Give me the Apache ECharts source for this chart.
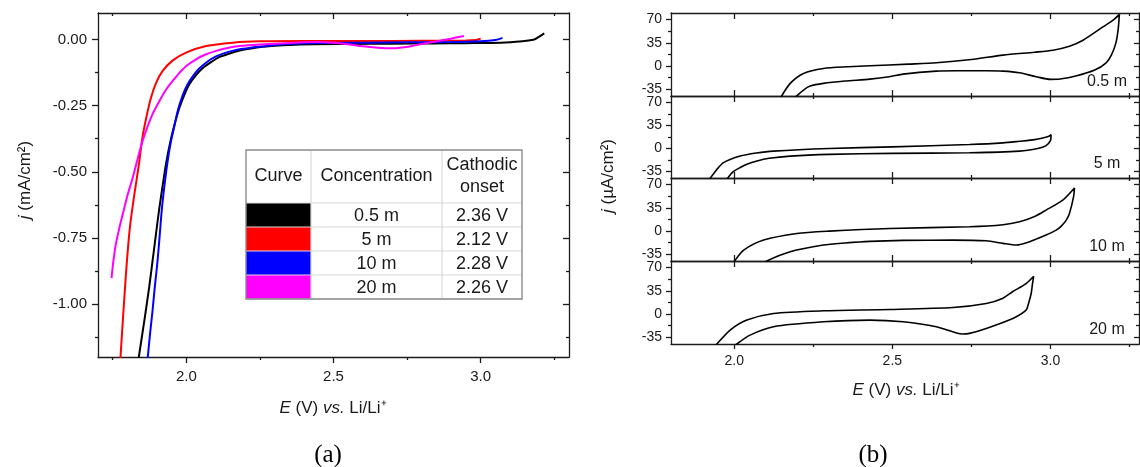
<!DOCTYPE html>
<html><head><meta charset="utf-8">
<script src="https://cdn.jsdelivr.net/npm/echarts@6/dist/echarts.min.js"></script>
<style>html,body{margin:0;padding:0;background:#fff}#c{width:1140px;height:467px}</style>
</head><body><div id="c"></div>
<script>
// ---------- Panel (a): linear sweeps, E (V) vs j (mA/cm2) ----------
const blackE = [3.216, 3.20, 3.182, 3.13, 3.068, 2.95, 2.84, 2.70, 2.55, 2.386, 2.30, 2.26, 2.22, 2.181, 2.15, 2.113, 2.085, 2.056, 2.033, 2.010, 1.993, 1.976, 1.959, 1.945, 1.931, 1.92, 1.908, 1.897, 1.885, 1.874, 1.862, 1.851, 1.840, 1.835];
const blackJ = [0.023, 0.012, 0.000, -0.008, -0.012, -0.014, -0.015, -0.016, -0.017, -0.019, -0.024, -0.028, -0.034, -0.042, -0.052, -0.066, -0.085, -0.108, -0.135, -0.170, -0.210, -0.260, -0.325, -0.390, -0.470, -0.550, -0.640, -0.735, -0.840, -0.935, -1.028, -1.110, -1.190, -1.23];
const redE = [3.00, 2.985, 2.95, 2.80, 2.60, 2.40, 2.249, 2.158, 2.067, 1.999, 1.953, 1.919, 1.897, 1.880, 1.865, 1.851, 1.840, 1.823, 1.808, 1.794, 1.777, 1.775];
const redJ = [0.003, -0.002, -0.004, -0.005, -0.006, -0.006, -0.007, -0.012, -0.025, -0.050, -0.080, -0.120, -0.165, -0.220, -0.290, -0.370, -0.464, -0.589, -0.714, -0.902, -1.190, -1.23];
const blueE = [3.074, 3.05, 3.0, 2.9, 2.75, 2.6, 2.44, 2.33, 2.26, 2.22, 2.181, 2.14, 2.101, 2.07, 2.044, 2.025, 2.004, 1.988, 1.972, 1.959, 1.947, 1.936, 1.926, 1.917, 1.910, 1.902, 1.893, 1.885, 1.877, 1.870, 1.866];
const blueJ = [0.006, -0.002, -0.007, -0.010, -0.011, -0.012, -0.013, -0.018, -0.026, -0.031, -0.037, -0.048, -0.064, -0.085, -0.110, -0.135, -0.170, -0.210, -0.265, -0.330, -0.390, -0.464, -0.550, -0.640, -0.735, -0.840, -0.935, -1.028, -1.110, -1.190, -1.23];
const magentaE = [2.943, 2.92, 2.898, 2.86, 2.818, 2.76, 2.703, 2.65, 2.60, 2.55, 2.50, 2.44, 2.35, 2.249, 2.181, 2.14, 2.101, 2.065, 2.033, 2.0, 1.976, 1.955, 1.931, 1.91, 1.885, 1.868, 1.851, 1.835, 1.817, 1.80, 1.783, 1.771, 1.760, 1.752, 1.746];
const magentaJ = [0.013, 0.008, 0.003, -0.005, -0.013, -0.026, -0.033, -0.031, -0.026, -0.018, -0.012, -0.010, -0.013, -0.019, -0.025, -0.032, -0.043, -0.057, -0.075, -0.100, -0.127, -0.155, -0.190, -0.230, -0.283, -0.330, -0.385, -0.450, -0.526, -0.590, -0.665, -0.720, -0.777, -0.840, -0.902];

const curveColors = ['#000000', '#ff0000', '#0000ff', '#ff00ff'];
const concentrations = ['0.5 m', '5 m', '10 m', '20 m'];
const onsets = ['2.36 V', '2.12 V', '2.28 V', '2.26 V'];

const aMajorX = [2.0, 2.5, 3.0];
const aMinorX = [1.75, 2.25, 2.75, 3.25];
const aMajorY = [-1.0, -0.75, -0.5, -0.25, 0];
const aMinorY = [-1.125, -0.875, -0.625, -0.375, -0.125];

// ---------- Panel (b): cyclic voltammograms, E (V) vs j (uA/cm2) ----------
const cv05E = [2.146, 2.177, 2.219, 2.282, 2.36, 2.429, 2.55, 2.639, 2.75, 2.850, 2.95, 3.008, 3.06, 3.103, 3.166, 3.20, 3.218, 3.214, 3.207, 3.193, 3.176, 3.14, 3.08, 3.03, 3.0, 2.955, 2.902, 2.85, 2.797, 2.70, 2.639, 2.534, 2.49, 2.429, 2.35, 2.282, 2.24, 2.219, 2.19];
const cv05J = [-48, -26, -11, -3.5, -1, 0.5, 3, 5, 10, 16.6, 21, 24, 30, 39, 59, 70, 78, 55, 35, 17, 5, -6, -15, -19.5, -20, -16, -10, -7.5, -7, -7, -7.5, -12, -16, -19.6, -22.5, -26, -30, -36, -48];
const cv5E = [1.92, 1.945, 1.966, 2.019, 2.07, 2.124, 2.3, 2.5, 2.744, 2.85, 2.902, 2.95, 2.976, 2.995, 3.002, 3.0, 2.985, 2.96, 2.902, 2.744, 2.5, 2.3, 2.177, 2.11, 2.072, 2.04, 2.019, 1.995, 1.975];
const cv5J = [-48, -32, -21.6, -11.6, -7, -4, 0, 2.5, 6, 8.5, 11, 13.5, 16, 18.5, 21, 12, 4, 0, -4, -6.5, -7.5, -9, -11.6, -15, -19, -24, -29, -36, -48];
const cv10E = [1.997, 2.001, 2.03, 2.093, 2.198, 2.3, 2.492, 2.744, 2.85, 2.902, 2.95, 2.986, 3.039, 3.076, 3.073, 3.06, 3.05, 3.035, 3.018, 2.986, 2.934, 2.892, 2.85, 2.797, 2.692, 2.534, 2.429, 2.35, 2.282, 2.177, 2.103, 2.095];
const cv10J = [-50, -45, -28.6, -13.5, -3.5, 0, 4, 6.5, 9.5, 14, 22, 31.6, 46.7, 65, 51.7, 26.6, 16.6, 8, 1.5, -6, -16, -21, -18.5, -14.6, -13.5, -14, -15.5, -18, -21, -31, -45, -50];
const cv20E = [1.94, 1.945, 1.987, 2.04, 2.124, 2.282, 2.492, 2.692, 2.797, 2.85, 2.881, 2.923, 2.947, 2.943, 2.939, 2.93, 2.923, 2.881, 2.797, 2.744, 2.723, 2.70, 2.639, 2.534, 2.429, 2.282, 2.124, 2.05, 2.008, 2.0];
const cv20J = [-48, -45, -24, -9, 1, 5, 7, 10, 16, 24, 34, 46, 57, 45, 31, 15, 6, -6.5, -21.5, -29, -30, -28, -19, -11.6, -9, -11.6, -19, -31.6, -45, -49];
const cvLabels = ['0.5 m', '5 m', '10 m', '20 m'];

const bMajorX = [2.0, 2.5, 3.0];
const bMinorX = [2.25, 2.75, 3.25];
const bMajorY = [-35, 0, 35, 70];
const bMinorY = [-17.5, 17.5, 52.5];

// ---------- build ----------
const FONT = "'Liberation Sans', Arial, sans-serif";
const AX = '#1c1c1c';
const TXT = '#1a1a1a';
const zip = (xs, ys) => xs.map((x, i) => [x, ys[i]]);

const grids = [], xAxes = [], yAxes = [], series = [], graphics = [];

function valAxis(o) {
  return {
    type: 'value', gridIndex: o.grid, min: o.min, max: o.max, position: o.pos,
    axisLine: { show: !!o.line, onZero: false, lineStyle: { color: AX, width: 1.3 } },
    axisTick: { show: true, inside: !!o.inside, length: o.len, customValues: o.ticks, lineStyle: { color: AX, width: 1.3 } },
    axisLabel: o.label ? Object.assign({ show: true, customValues: o.ticks, color: TXT, fontFamily: FONT }, o.label) : { show: false },
    splitLine: { show: false }, minorTick: { show: false }, minorSplitLine: { show: false },
    axisPointer: { show: false }, silent: true
  };
}

// Panel (a) grid
grids.push({ left: 98, top: 13, width: 471, height: 344 });
const aX = xAxes.length;
xAxes.push(valAxis({ grid: 0, min: 1.7, max: 3.3, pos: 'bottom', ticks: aMajorX, len: 6, line: true,
  label: { fontSize: 15, margin: 12, formatter: v => v.toFixed(1) } }));
xAxes.push(valAxis({ grid: 0, min: 1.7, max: 3.3, pos: 'bottom', ticks: aMinorX, len: 3 }));
xAxes.push(valAxis({ grid: 0, min: 1.7, max: 3.3, pos: 'top', ticks: aMajorX, len: 6, inside: true, line: true }));
xAxes.push(valAxis({ grid: 0, min: 1.7, max: 3.3, pos: 'top', ticks: aMinorX, len: 3, inside: true }));
const aY = yAxes.length;
yAxes.push(valAxis({ grid: 0, min: -1.2, max: 0.1, pos: 'left', ticks: aMajorY, len: 6, line: true,
  label: { fontSize: 15, margin: 11, formatter: v => v.toFixed(2) } }));
yAxes.push(valAxis({ grid: 0, min: -1.2, max: 0.1, pos: 'left', ticks: aMinorY, len: 3 }));
yAxes.push(valAxis({ grid: 0, min: -1.2, max: 0.1, pos: 'right', ticks: aMajorY, len: 6, inside: true, line: true }));
yAxes.push(valAxis({ grid: 0, min: -1.2, max: 0.1, pos: 'right', ticks: aMinorY, len: 3, inside: true }));

const aCurves = [zip(blackE, blackJ), zip(redE, redJ), zip(blueE, blueJ), zip(magentaE, magentaJ)];
aCurves.forEach((d, i) => series.push({
  type: 'line', name: concentrations[i], xAxisIndex: aX, yAxisIndex: aY, data: d,
  showSymbol: false, symbol: 'none', smooth: 0.3, clip: true, animation: false,
  lineStyle: { color: curveColors[i], width: 2 }, z: 3 + i
}));

// Panel (b) grids
const bTops = [13, 96, 178, 261], bHeights = [83, 82, 83, 83];
const cvData = [zip(cv05E, cv05J), zip(cv5E, cv5J), zip(cv10E, cv10J), zip(cv20E, cv20J)];
for (let k = 0; k < 4; k++) {
  const g = grids.length;
  grids.push({ left: 671, width: 468, top: bTops[k], height: bHeights[k] });
  const last = k === 3;
  const xi = xAxes.length;
  xAxes.push(valAxis({ grid: g, min: 1.8, max: 3.28, pos: 'bottom', ticks: bMajorX, len: last ? 5 : 6, inside: !last, line: true,
    label: last ? { fontSize: 14, margin: 10, formatter: v => v.toFixed(1) } : null }));
  xAxes.push(valAxis({ grid: g, min: 1.8, max: 3.28, pos: 'bottom', ticks: bMinorX, len: 3, inside: !last }));
  xAxes.push(valAxis({ grid: g, min: 1.8, max: 3.28, pos: 'top', ticks: bMajorX, len: 6, inside: true, line: true }));
  xAxes.push(valAxis({ grid: g, min: 1.8, max: 3.28, pos: 'top', ticks: bMinorX, len: 3, inside: true }));
  const yi = yAxes.length;
  yAxes.push(valAxis({ grid: g, min: -45, max: 80, pos: 'left', ticks: bMajorY, len: 5, line: true,
    label: { fontSize: 14, margin: 9, formatter: v => String(v) } }));
  yAxes.push(valAxis({ grid: g, min: -45, max: 80, pos: 'left', ticks: bMinorY, len: 3 }));
  yAxes.push(valAxis({ grid: g, min: -45, max: 80, pos: 'right', ticks: bMajorY, len: 5, inside: true, line: true }));
  yAxes.push(valAxis({ grid: g, min: -45, max: 80, pos: 'right', ticks: bMinorY, len: 3, inside: true }));
  series.push({
    type: 'line', name: cvLabels[k], xAxisIndex: xi, yAxisIndex: yi, data: cvData[k],
    showSymbol: false, symbol: 'none', smooth: 0.25, clip: true, animation: false,
    lineStyle: { color: '#000', width: 1.6 }
  });
  graphics.push({ type: 'text', x: 1107, y: bTops[k] + bHeights[k] - 14, silent: true,
    style: { text: cvLabels[k], fontSize: 16, fontFamily: FONT, fill: TXT, align: 'center', verticalAlign: 'middle' } });
}

// Axis titles
const rich = fs => ({ i: { fontStyle: 'italic', fontSize: fs, fontFamily: FONT, fill: TXT } });
graphics.push({ type: 'text', x: 25, y: 180, rotation: Math.PI / 2, silent: true,
  style: { text: '{i|j} (mA/cm²)', fontSize: 17, fontFamily: FONT, fill: TXT, align: 'center', verticalAlign: 'middle', rich: rich(17) } });
graphics.push({ type: 'text', x: 333, y: 408, silent: true,
  style: { text: '{i|E} (V) {i|vs.} Li/Li⁺', fontSize: 17, fontFamily: FONT, fill: TXT, align: 'center', verticalAlign: 'middle', rich: rich(17) } });
graphics.push({ type: 'text', x: 608, y: 176, rotation: Math.PI / 2, silent: true,
  style: { text: '{i|j} (µA/cm²)', fontSize: 17, fontFamily: FONT, fill: TXT, align: 'center', verticalAlign: 'middle', rich: rich(17) } });
graphics.push({ type: 'text', x: 906, y: 390, silent: true,
  style: { text: '{i|E} (V) {i|vs.} Li/Li⁺', fontSize: 17, fontFamily: FONT, fill: TXT, align: 'center', verticalAlign: 'middle', rich: rich(17) } });
graphics.push({ type: 'text', x: 328, y: 455, silent: true,
  style: { text: '(a)', fontSize: 25, fontFamily: "'Liberation Serif', 'Times New Roman', serif", fill: '#000', align: 'center', verticalAlign: 'middle' } });
graphics.push({ type: 'text', x: 873, y: 455, silent: true,
  style: { text: '(b)', fontSize: 25, fontFamily: "'Liberation Serif', 'Times New Roman', serif", fill: '#000', align: 'center', verticalAlign: 'middle' } });

// Legend table
const tX = 246, tY = 150, colW = [65, 131, 80], headH = 53, rowH = 24;
const tW = colW[0] + colW[1] + colW[2], tH = headH + rowH * concentrations.length;
const c1 = tX + colW[0], c2 = c1 + colW[1];
graphics.push({ type: 'rect', silent: true, z: 10, shape: { x: tX, y: tY, width: tW, height: tH }, style: { fill: '#fff' } });
concentrations.forEach((c, i) => {
  const ry = tY + headH + i * rowH;
  graphics.push({ type: 'rect', silent: true, z: 11, shape: { x: tX, y: ry, width: colW[0], height: rowH }, style: { fill: curveColors[i] } });
  graphics.push({ type: 'text', silent: true, z: 12, x: (c1 + c2) / 2, y: ry + rowH / 2 + 1,
    style: { text: c, fontSize: 18, fontFamily: FONT, fill: TXT, align: 'center', verticalAlign: 'middle' } });
  graphics.push({ type: 'text', silent: true, z: 12, x: (c2 + tX + tW) / 2, y: ry + rowH / 2 + 1,
    style: { text: onsets[i], fontSize: 18, fontFamily: FONT, fill: TXT, align: 'center', verticalAlign: 'middle' } });
});
for (let i = 0; i <= concentrations.length; i++) {
  const ly = tY + headH + i * rowH;
  graphics.push({ type: 'line', silent: true, z: 13, shape: { x1: tX, y1: ly, x2: tX + tW, y2: ly }, style: { stroke: '#d9d9d9', lineWidth: 1.2 } });
}
[c1, c2].forEach(x => graphics.push({ type: 'line', silent: true, z: 13, shape: { x1: x, y1: tY, x2: x, y2: tY + tH }, style: { stroke: '#d9d9d9', lineWidth: 1.2 } }));
graphics.push({ type: 'text', silent: true, z: 12, x: (tX + c1) / 2, y: tY + headH / 2,
  style: { text: 'Curve', fontSize: 18, fontFamily: FONT, fill: TXT, align: 'center', verticalAlign: 'middle' } });
graphics.push({ type: 'text', silent: true, z: 12, x: (c1 + c2) / 2, y: tY + headH / 2,
  style: { text: 'Concentration', fontSize: 18, fontFamily: FONT, fill: TXT, align: 'center', verticalAlign: 'middle' } });
graphics.push({ type: 'text', silent: true, z: 12, x: (c2 + tX + tW) / 2, y: tY + headH / 2,
  style: { text: 'Cathodic\nonset', fontSize: 18, lineHeight: 22, fontFamily: FONT, fill: TXT, align: 'center', verticalAlign: 'middle' } });
graphics.push({ type: 'rect', silent: true, z: 14, shape: { x: tX, y: tY, width: tW, height: tH }, style: { fill: 'none', stroke: '#8a8a8a', lineWidth: 1.4 } });

const chart = echarts.init(document.getElementById('c'), null, { renderer: 'canvas' });
chart.setOption({
  backgroundColor: '#ffffff',
  animation: false,
  grid: grids, xAxis: xAxes, yAxis: yAxes, series: series,
  graphic: { elements: graphics }
});
</script></body></html>
